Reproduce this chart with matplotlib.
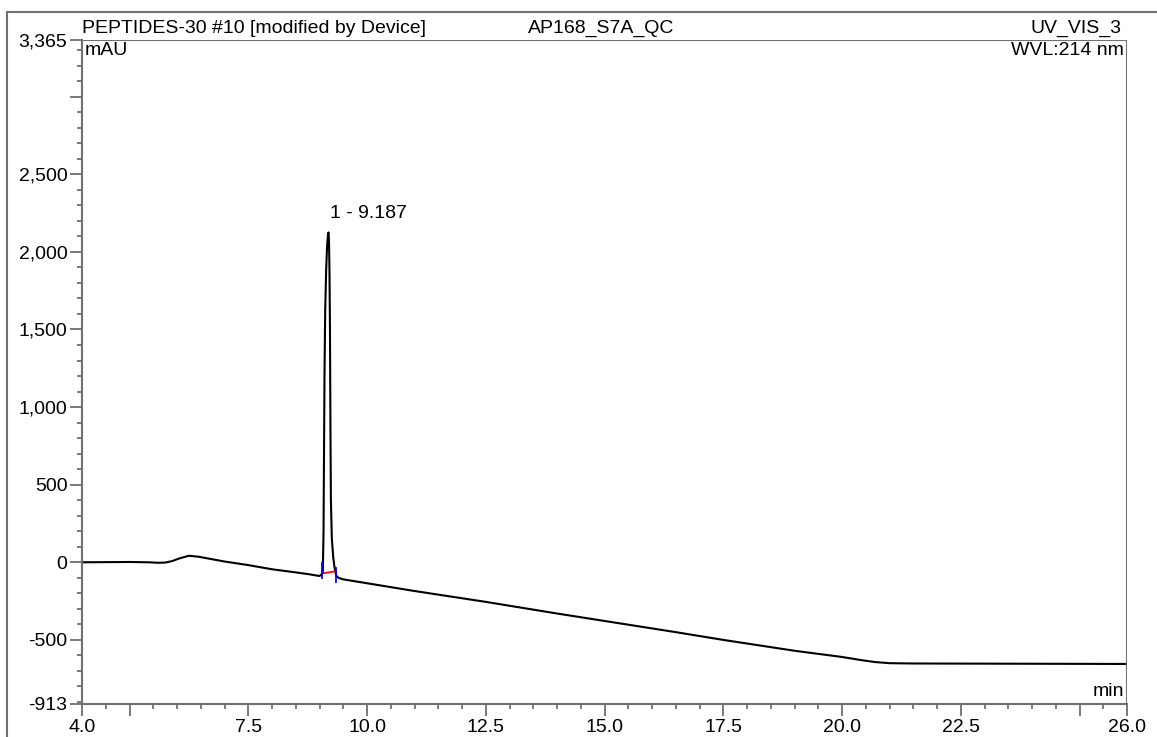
import matplotlib
matplotlib.use("Agg")
from matplotlib import pyplot as plt
from matplotlib.lines import Line2D
import numpy as np

plt.rcParams['font.family'] = ['Liberation Sans', 'DejaVu Sans']

# chromatogram trace (min, mAU)
time_min = [4.0, 4.5, 5.0, 5.4, 5.6, 5.75, 5.9, 6.05, 6.25, 6.45, 6.7, 7.0, 7.5,
            8.0, 8.5, 8.8, 8.95, 9.0, 9.04, 9.07, 9.085, 9.095, 9.105, 9.12,
            9.14, 9.16, 9.18, 9.19, 9.20, 9.21, 9.22, 9.23, 9.24, 9.26, 9.29,
            9.32, 9.35, 9.40, 9.50, 9.70, 10.0, 11.0, 12.5, 14.0, 15.0, 16.5,
            17.5, 19.0, 20.0, 20.4, 20.7, 21.0, 21.5, 23.0, 26.0]
signal_mau = [0, 1, 2, 0, -3, -2, 8, 25, 42, 36, 22, 5, -18,
              -45, -65, -78, -86, -88, -80, -60, 200, 700, 1200, 1620,
              1880, 2040, 2115, 2125, 2070, 1880, 1520, 900, 400, 150, 30,
              -40, -85, -100, -110, -120, -135, -185, -255, -330, -378, -450,
              -500, -570, -610, -630, -643, -650, -652, -653, -655]

# integration baseline and delimiters
baseline_t = [9.05, 9.34]
baseline_y = [-72, -58]
marker_t = [9.05, 9.34]
marker_lo = [-100, -125]
marker_hi = [-5, -40]

peak_label = "1 - 9.187"
peak_label_pos = (9.22, 2250)

x_ticks = [4.0, 5.0, 7.5, 10.0, 12.5, 15.0, 17.5, 20.0, 22.5, 25.0, 26.0]
x_labels = ["4.0", "", "7.5", "10.0", "12.5", "15.0", "17.5", "20.0", "22.5", "", "26.0"]
y_ticks = [-913, -500, 0, 500, 1000, 1500, 2000, 2500, 3000, 3365]
y_labels = ["-913", "-500", "0", "500", "1,000", "1,500", "2,000", "2,500", "", "3,365"]

gray = "#707070"
fs = 14

fig = plt.figure(figsize=(11.57, 7.37), dpi=100)
ax = fig.add_axes([82 / 1157, 1 - 704 / 737, (1127 - 82) / 1157, (704 - 40) / 737])

ax.plot(time_min, signal_mau, color="black", lw=1.5)
ax.plot(baseline_t, baseline_y, color="red", lw=1.3)
for t, lo, hi in zip(marker_t, marker_lo, marker_hi):
    ax.plot([t, t], [lo, hi], color="blue", lw=1.3)
ax.text(peak_label_pos[0], peak_label_pos[1], peak_label, fontsize=fs, va="center", ha="left")

ax.set_xlim(4.0, 26.0)
ax.set_ylim(-913, 3365)
ax.set_xticks(x_ticks)
ax.set_xticklabels(x_labels)
ax.set_yticks(y_ticks)
ax.set_yticklabels(y_labels)
ax.set_xticks(np.arange(4.5, 26.0, 0.5), minor=True)
ax.set_yticks(np.arange(-900, 3365, 100), minor=True)

ax.tick_params(which="major", length=8.5, width=1.3, color=gray, labelsize=fs, pad=2)
ax.tick_params(which="minor", length=3.6, width=1.3, color=gray)
for s in ["top", "right"]:
    ax.spines[s].set_visible(False)
for s in ["left", "bottom"]:
    ax.spines[s].set_color(gray)
    ax.spines[s].set_linewidth(1.5)
# right and top edge lines like the original frame
ax.axvline(26.0, color=gray, lw=1.5)
ax.axhline(3365, color=gray, lw=1.5)

ax.text(0.003, 0.997, "mAU", transform=ax.transAxes, fontsize=fs, va="top", ha="left")
ax.text(0.997, 0.997, "WVL:214 nm", transform=ax.transAxes, fontsize=fs, va="top", ha="right")
ax.text(0.997, 0.006, "min", transform=ax.transAxes, fontsize=fs, va="bottom", ha="right")

ax.text(0.0, 1.004, "PEPTIDES-30 #10 [modified by Device]", transform=ax.transAxes,
        fontsize=fs, va="bottom", ha="left")
ax.text(0.497, 1.004, "AP168_S7A_QC", transform=ax.transAxes, fontsize=fs, va="bottom", ha="center")
ax.text(0.995, 1.004, "UV_VIS_3", transform=ax.transAxes, fontsize=fs, va="bottom", ha="right")

# outer page frame
fig.add_artist(Line2D([7 / 1157, 1.0], [1 - 11.5 / 737, 1 - 11.5 / 737], color=gray, lw=1.5))
fig.add_artist(Line2D([7 / 1157, 7 / 1157], [0.0, 1 - 11.5 / 737], color=gray, lw=1.5))

fig.savefig("out.png", dpi=100)
